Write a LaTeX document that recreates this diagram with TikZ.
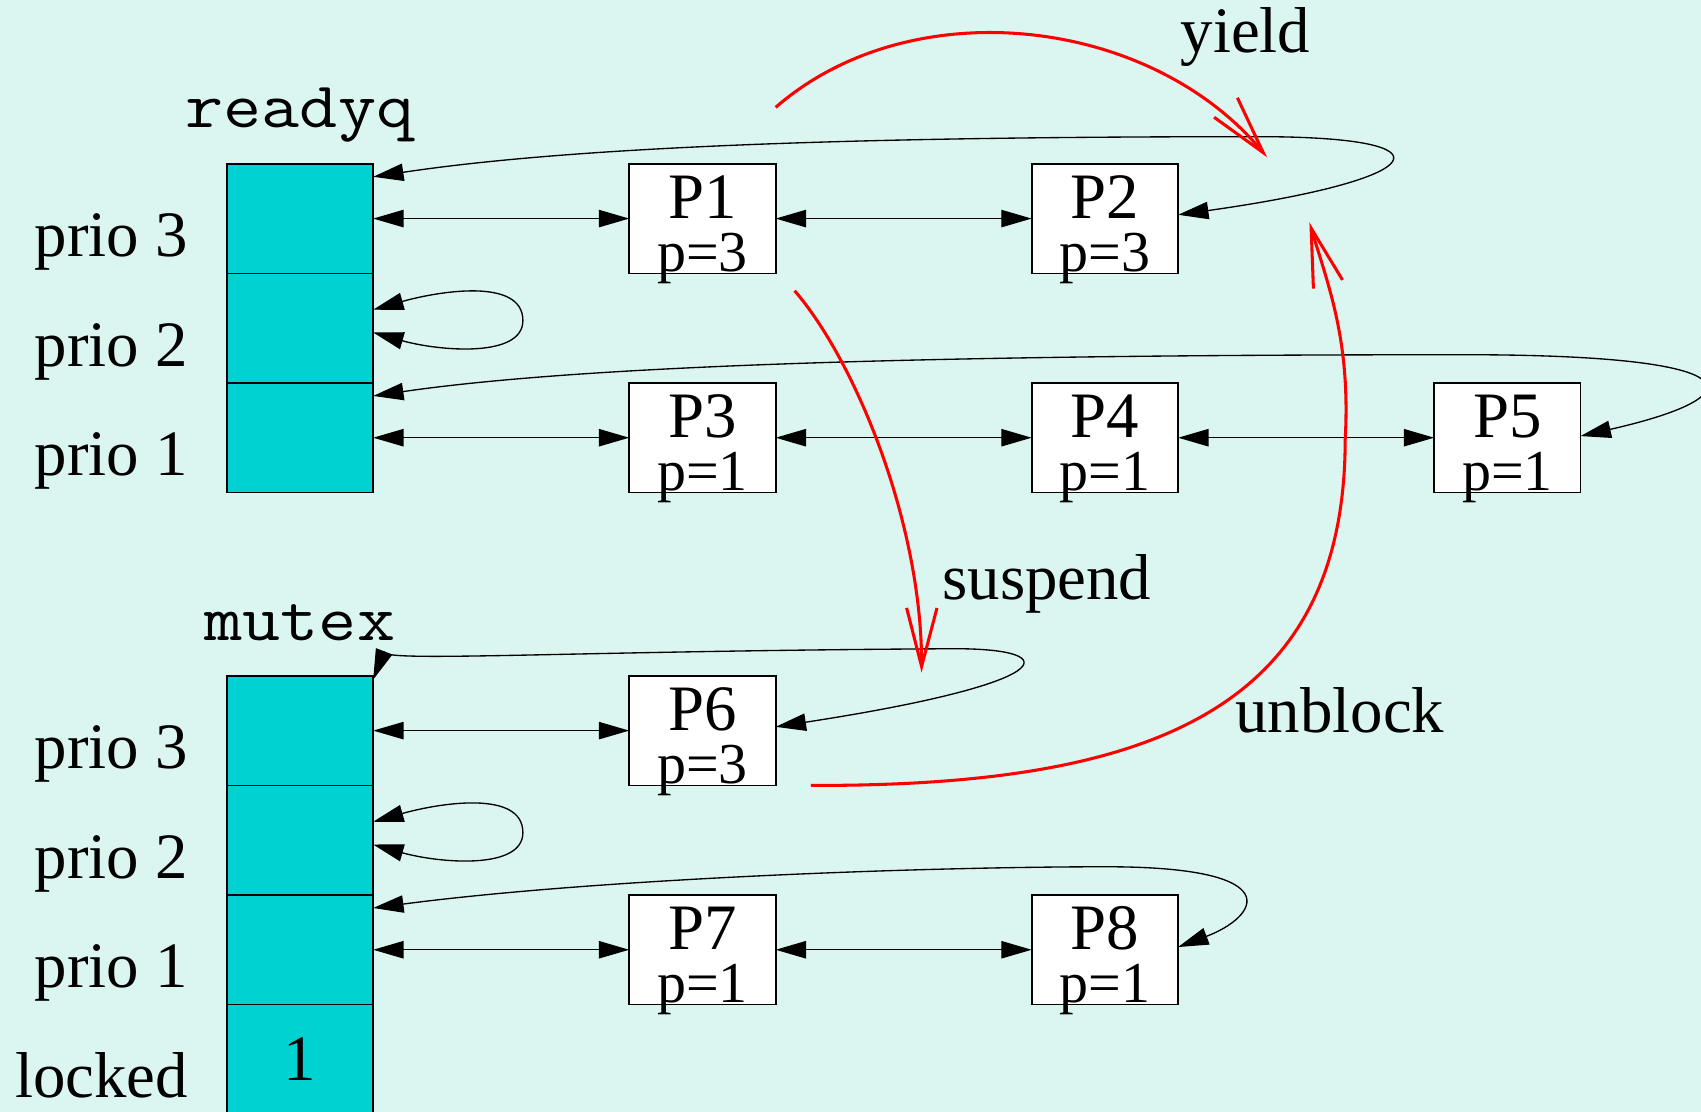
\documentclass[tikz,border=0pt]{standalone}
\usepackage{fontspec}
\setmainfont{Liberation Serif}
\newfontfamily\headfont[FakeStretch=1.14]{Latin Modern Mono}
\usetikzlibrary{arrows.meta,positioning}
\definecolor{BackClr}{RGB}{219,245,240}
\definecolor{CellClr}{RGB}{0,209,209}
\definecolor{MoveClr}{RGB}{255,0,0}
\tikzset{
  cell/.style={draw, fill=CellClr, line width=0.45pt, minimum width=1.35cm, minimum height=1.01cm, inner sep=0pt, outer sep=0pt},
  procbox/.style={draw, fill=white, line width=0.45pt, minimum width=1.35cm, minimum height=1.01cm, inner sep=0pt, outer sep=0pt},
  bigtxt/.style={font=\fontsize{17}{20}\selectfont, inner sep=0pt},
  smalltxt/.style={font=\fontsize{15.2}{18}\selectfont, inner sep=0pt},
  headtxt/.style={font=\headfont\fontsize{17}{20}\selectfont, inner sep=0pt},
  link/.style={{Triangle[length=2.8mm,width=1.6mm]}-{Triangle[length=2.8mm,width=1.6mm]}, line width=0.35pt},
  move/.style={-{Straight Barb[length=5.4mm,width=2.8mm]}, draw=MoveClr, line width=0.8pt}
}
\newcommand{\ProcBox}[4]{\node[procbox,#2] (#1) {};
  \node[bigtxt,anchor=base] (#1-name) at ([yshift=-5.05mm]#1.north) {#3};
  \node[smalltxt,anchor=base] (#1-prio) at ([yshift=-9.95mm]#1.north) {#4};}
\newcommand{\PrioLabel}[2]{\node[bigtxt,anchor=base east] (#1-lbl) at ([xshift=-3.5mm,yshift=-3.5mm]#1.west) {#2};}
\newcommand{\SelfLoop}[1]{\draw[link] ([yshift=1.7mm]#1.east) .. controls +(0.6,0.17) and +(0,0.4) .. ([xshift=13.8mm,yshift=0.7mm]#1.east) .. controls +(0,-0.35) and +(0.6,-0.17) .. ([yshift=-0.4mm]#1.east);}

\begin{document}
\begin{tikzpicture}
\path[use as bounding box, fill=BackClr] (0,0) rectangle (15.68,10.25);

\node[cell] (rq3) at (2.765,8.235) {};
\node[cell,below=0pt of rq3] (rq2) {};
\node[cell,below=0pt of rq2] (rq1) {};
\node[headtxt,anchor=base] (rqname) at ([yshift=3.3mm]rq3.north) {readyq};
\PrioLabel{rq3}{prio 3}
\PrioLabel{rq2}{prio 2}
\PrioLabel{rq1}{prio 1}

\node[cell] (mx3) at (2.765,3.515) {};
\node[cell,below=0pt of mx3] (mx2) {};
\node[cell,below=0pt of mx2] (mx1) {};
\node[cell,below=0pt of mx1,font=\fontsize{17}{20}\selectfont] (mxl) {1};
\node[headtxt,anchor=base] (mxname) at ([yshift=3.3mm]mx3.north) {mutex};
\PrioLabel{mx3}{prio 3}
\PrioLabel{mx2}{prio 2}
\PrioLabel{mx1}{prio 1}
\PrioLabel{mxl}{locked}

\ProcBox{p1}{right=2.36cm of rq3}{P1}{p=3}
\ProcBox{p2}{right=2.36cm of p1}{P2}{p=3}
\ProcBox{p3}{right=2.36cm of rq1}{P3}{p=1}
\ProcBox{p4}{right=2.36cm of p3}{P4}{p=1}
\ProcBox{p5}{right=2.36cm of p4}{P5}{p=1}
\ProcBox{p6}{right=2.36cm of mx3}{P6}{p=3}
\ProcBox{p7}{right=2.36cm of mx1}{P7}{p=1}
\ProcBox{p8}{right=2.36cm of p7}{P8}{p=1}

\draw[link] (rq3) -- (p1);
\draw[link] (p1) -- (p2);
\draw[link] (rq1) -- (p3);
\draw[link] (p3) -- (p4);
\draw[link] (p4) -- (p5);
\draw[link] (mx3) -- (p6);
\draw[link] (mx1) -- (p7);
\draw[link] (p7) -- (p8);

\draw[link] ([yshift=-1.2mm]rq3.north east) .. controls (5.5,8.93) and (8.5,8.99) .. (11.6,8.99) .. controls (13.45,8.99) and (13.2,8.6) .. ([yshift=0.35mm]p2.east);
\SelfLoop{rq2}
\draw[link] ([yshift=-1.2mm]rq1.north east) .. controls (5.5,6.9) and (9,6.98) .. (13.5,6.98) .. controls (16.2,6.98) and (16.2,6.6) .. ([yshift=0.15mm]p5.east);
\draw[link] ([yshift=-0.35mm]mx3.north east) .. controls (3.5,4.14) and (5.2,4.25) .. (8.8,4.27) .. controls (9.85,4.27) and (9.75,3.95) .. ([yshift=0.35mm]p6.east);
\SelfLoop{mx2}
\draw[link] ([yshift=-1.2mm]mx1.north east) .. controls (5.5,2.15) and (8.5,2.26) .. (10.2,2.26) .. controls (11.9,2.26) and (11.6,1.8) .. ([yshift=0.25mm]p8.east);

\draw[move] ([shift={(0,0.52)}]p1.north east) .. controls (8.4,10.35) and (10.6,10.1) .. ([shift={(0.82,0.06)}]p2.north east);
\draw[move] ([shift={(0.175,-0.16)}]p1.south east) .. controls (7.9,6.9) and (8.5,5.4) .. ([shift={(1.345,0.03)}]p6.north east);
\draw[move] ([xshift=3.25mm]p6.south east) .. controls (10.6,3.0) and (12.4,3.7) .. (12.4,6.2) .. controls (12.45,7.1) and (12.25,7.6) .. ([shift={(1.21,0.47)}]p2.south east);
\node[bigtxt,anchor=base] (yieldlbl) at (11.48,9.77) {yield};
\node[bigtxt,anchor=base] (suspendlbl) at (9.65,4.72) {suspend};
\node[bigtxt,anchor=base] (unblocklbl) at (12.35,3.50) {unblock};
\end{tikzpicture}
\end{document}
